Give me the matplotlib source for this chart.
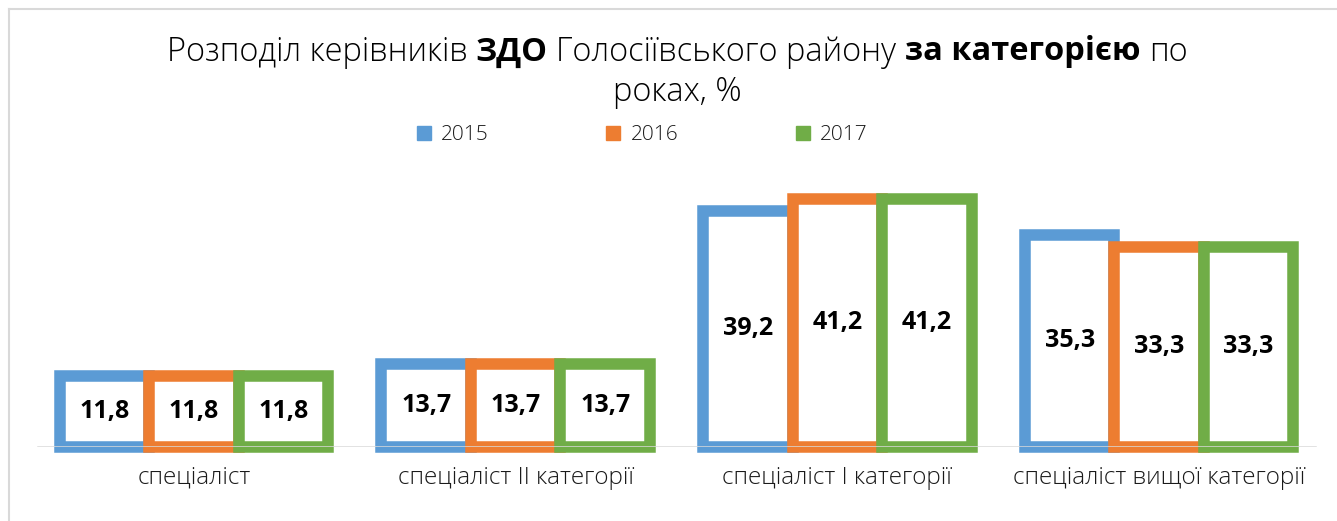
import matplotlib.pyplot as plt
import numpy as np
from matplotlib.lines import Line2D
from matplotlib.legend_handler import HandlerTuple

categories = ["спеціаліст", "спеціаліст ІІ категорії", "спеціаліст І категорії", "спеціаліст вищої категорії"]
years = ["2015", "2016", "2017"]
values_2015 = [11.8, 13.7, 39.2, 35.3]
values_2016 = [11.8, 13.7, 41.2, 33.3]
values_2017 = [11.8, 13.7, 41.2, 33.3]
colors = ["#5B9BD5", "#ED7D31", "#70AD47"]
title_line1 = [("Розподіл керівників", "light"), ("ЗДО", "bold"), ("Голосіївського району", "light"),
               ("за категорією", "bold"), ("по", "light")]
title_line2 = "роках, %"

plt.rcParams["font.family"] = ["Open Sans", "DejaVu Sans"]

fig = plt.figure(figsize=(13.37, 5.21), dpi=100)
ax = fig.add_axes([33 / 1337, 74.5 / 521, 1287 / 1337, 268 / 521])

x = np.arange(len(categories))
width = 0.278
series = [values_2015, values_2016, values_2017]
for i, (vals, col) in enumerate(zip(series, colors)):
    bars = ax.bar(x + (i - 1) * width, vals, width=width, facecolor="white",
                  edgecolor=col, linewidth=8.3, clip_on=False, zorder=2)
    for b, v in zip(bars, vals):
        ax.text(b.get_x() + b.get_width() / 2, v / 2, f"{v:.1f}".replace(".", ","),
                ha="center", va="center", fontsize=18, fontweight="bold", color="black", zorder=4)

ax.axhline(0, color="#D9D9D9", lw=1.8, zorder=3, xmin=0.004, xmax=0.996)
ax.set_xlim(-0.5, 3.5)
ax.set_ylim(0, 44.7)
ax.set_yticks([])
ax.set_xticks(x, categories, fontsize=17.5, color="#1a1a1a", fontweight="light")
ax.tick_params(axis="x", length=0, pad=14)
for s in ax.spines.values():
    s.set_visible(False)

# legend with small white dot inside each square
handles = [(Line2D([], [], marker="s", ls="", markersize=10, mfc=c, mec=c),
            Line2D([], [], marker="s", ls="", markersize=2, mfc="white", mec="white")) for c in colors]
fig.legend(handles, years, handler_map={tuple: HandlerTuple(ndivide=None)}, ncol=3,
           loc="center", bbox_to_anchor=(645 / 1337, 1 - 135 / 521), frameon=False,
           handlelength=0.7, handletextpad=0.2, columnspacing=5.9,
           labelcolor="#1a1a1a", prop={"size": 15, "weight": "light"})

# title with mixed weights
renderer = fig.canvas.get_renderer()
tsize = 23.5


def text_width(s, weight):
    t = fig.text(0, 0, s, fontsize=tsize, fontweight=weight)
    w = t.get_window_extent(renderer).width
    t.remove()
    return w


space = text_width("a a", "light") - text_width("aa", "light")
widths = [text_width(s, w) for s, w in title_line1]
total = sum(widths) + space * (len(widths) - 1)
xpix = 677 - total / 2
for (s, w), wd in zip(title_line1, widths):
    fig.text(xpix / 1337, 1 - 52 / 521, s, fontsize=tsize, fontweight=w, va="center", ha="left", color="black")
    xpix += wd + space
fig.text(677 / 1337, 1 - 92 / 521, title_line2, fontsize=tsize, fontweight="light",
         va="center", ha="center", color="black")

# chart area border (top and left visible)
fig.add_artist(Line2D([9 / 1337, 9 / 1337], [0, 1 - 9 / 521], transform=fig.transFigure, color="#D9D9D9", lw=1.5))
fig.add_artist(Line2D([9 / 1337, 1], [1 - 9 / 521, 1 - 9 / 521], transform=fig.transFigure, color="#D9D9D9", lw=1.5))

fig.savefig("out.png", dpi=100)
